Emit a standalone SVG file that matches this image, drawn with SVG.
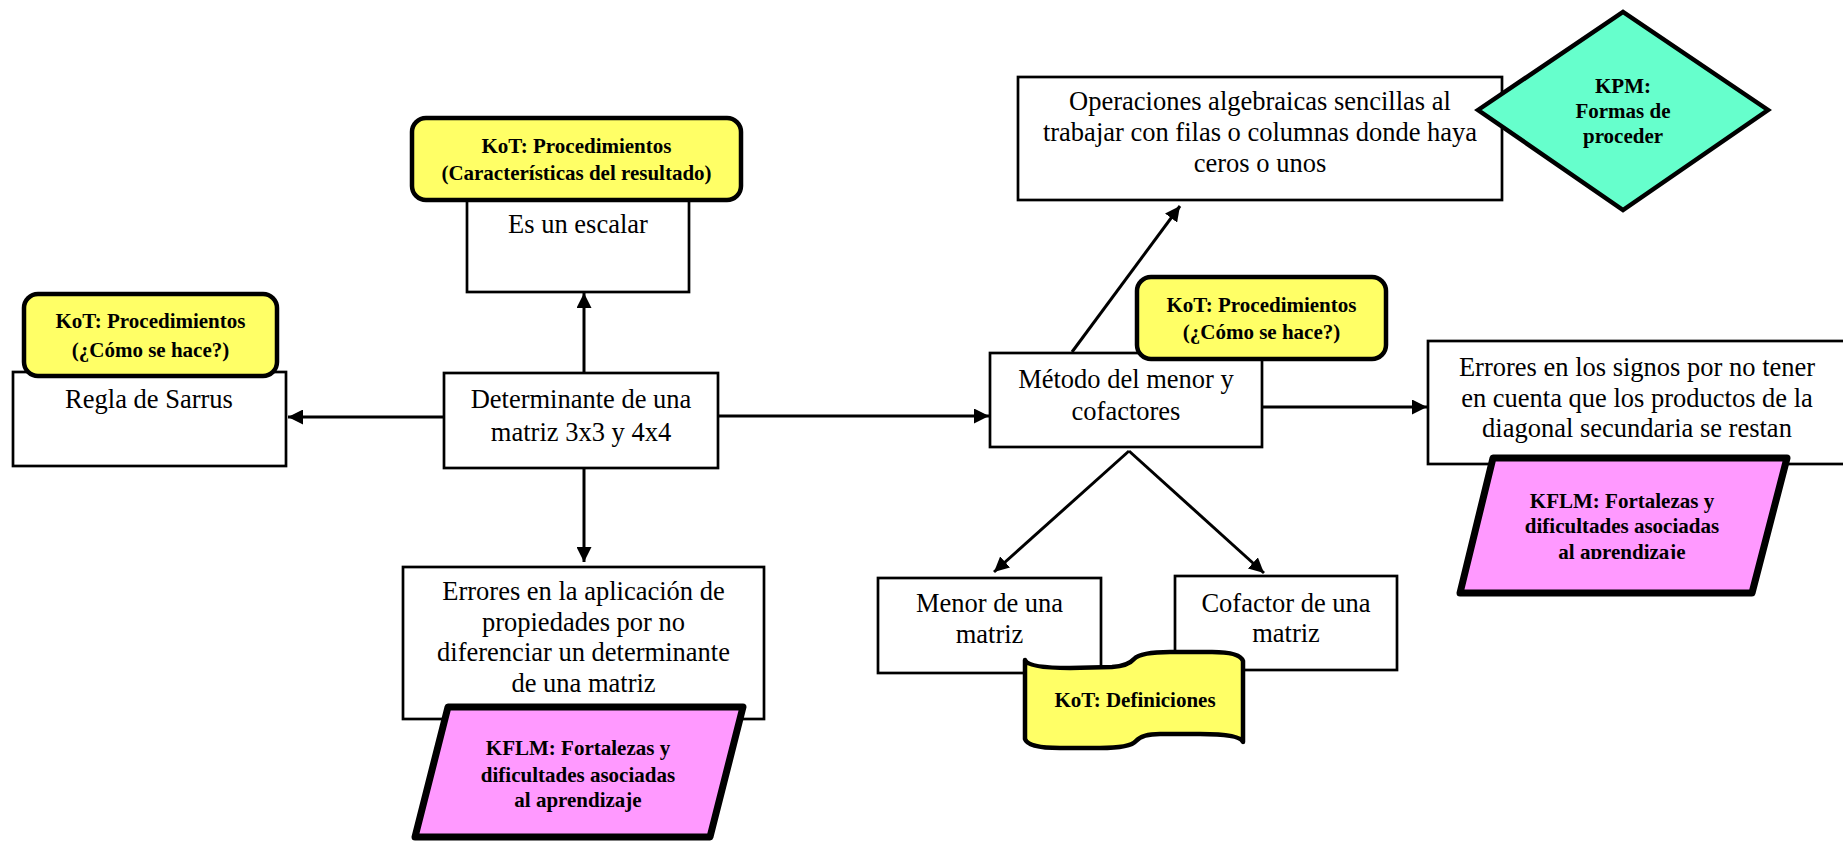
<svg xmlns="http://www.w3.org/2000/svg" width="1843" height="844" viewBox="0 0 1843 844">
  <style>
    .box { fill: #ffffff; stroke: #000000; stroke-width: 2.7; }
    .tag { fill: #ffff66; stroke: #000000; stroke-width: 4.5; }
    .kflm { fill: #ff99ff; stroke: #000000; stroke-width: 7; stroke-linejoin: round; }
    .kpm { fill: #66ffcc; stroke: #000000; stroke-width: 4.5; }
    .tape { fill: #ffff66; stroke: #000000; stroke-width: 4.5; stroke-linejoin: round; }
    .txt { font-family: "Liberation Serif", "Times New Roman", serif; font-size: 26.5px; fill: #000000; text-anchor: middle; }
    .lbl { font-family: "Liberation Serif", "Times New Roman", serif; font-size: 21px; font-weight: bold; fill: #000000; text-anchor: middle; }
    .edge { stroke: #000000; stroke-width: 3; fill: none; marker-end: url(#arrow); }
  </style>
  <defs>
    <marker id="arrow" viewBox="0 0 10 10" refX="10" refY="5" markerWidth="5" markerHeight="5" markerUnits="strokeWidth" orient="auto">
      <path d="M0,0 L10,5 L0,10 Z" fill="#000000"/>
    </marker>
    <clipPath id="clipLowerKflm">
      <rect x="1400" y="440" width="443" height="119"/>
    </clipPath>
  </defs>
  <rect width="1843" height="844" fill="#ffffff"/>

  <g id="connectors">
    <line class="edge" x1="445" y1="417" x2="288" y2="417"/>
    <line class="edge" x1="584" y1="373" x2="584" y2="293"/>
    <line class="edge" x1="584" y1="468" x2="584" y2="562"/>
    <line class="edge" x1="718" y1="416" x2="989" y2="416"/>
    <line class="edge" x1="1262" y1="407" x2="1427" y2="407"/>
    <line class="edge" x1="1072" y1="352" x2="1180" y2="206"/>
    <line class="edge" x1="1129" y1="451" x2="994" y2="572"/>
    <line class="edge" x1="1129" y1="451" x2="1264" y2="573"/>
  </g>

  <g id="sarrus">
    <rect class="box" x="13" y="372" width="273" height="94"/>
    <text class="txt" x="149" y="408">Regla de Sarrus</text>
  </g>
  <g id="tag-sarrus">
    <rect class="tag" x="24" y="294" width="253" height="82" rx="14"/>
    <text class="lbl" x="150.5" y="328">KoT: Procedimientos</text>
    <text class="lbl" x="150.5" y="357">(¿Cómo se hace?)</text>
  </g>

  <g id="escalar">
    <rect class="box" x="467" y="195" width="222" height="97"/>
    <text class="txt" x="578" y="233">Es un escalar</text>
  </g>
  <g id="tag-escalar">
    <rect class="tag" x="412" y="118" width="329" height="82" rx="14"/>
    <text class="lbl" x="576.5" y="153">KoT: Procedimientos</text>
    <text class="lbl" x="576.5" y="180">(Características del resultado)</text>
  </g>

  <g id="determinante">
    <rect class="box" x="444" y="373" width="274" height="95"/>
    <text class="txt" x="581" y="408">Determinante de una</text>
    <text class="txt" x="581" y="441">matriz 3x3 y 4x4</text>
  </g>

  <g id="errores-propiedades">
    <rect class="box" x="403" y="567" width="361" height="152"/>
    <text class="txt" x="583.5" y="600">Errores en la aplicación de</text>
    <text class="txt" x="583.5" y="631">propiedades por no</text>
    <text class="txt" x="583.5" y="661">diferenciar un determinante</text>
    <text class="txt" x="583.5" y="692">de una matriz</text>
  </g>
  <g id="kflm-propiedades">
    <polygon class="kflm" points="448,707 743,707 710,837 415,837"/>
    <text class="lbl" x="578" y="755">KFLM: Fortalezas y</text>
    <text class="lbl" x="578" y="782">dificultades asociadas</text>
    <text class="lbl" x="578" y="807">al aprendizaje</text>
  </g>

  <g id="operaciones">
    <rect class="box" x="1018" y="77" width="484" height="123"/>
    <text class="txt" x="1260" y="110">Operaciones algebraicas sencillas al</text>
    <text class="txt" x="1260" y="141">trabajar con filas o columnas donde haya</text>
    <text class="txt" x="1260" y="172">ceros o unos</text>
  </g>
  <g id="kpm">
    <polygon class="kpm" points="1478,110 1623,12 1768,110 1623,210"/>
    <text class="lbl" x="1623" y="93">KPM:</text>
    <text class="lbl" x="1623" y="118">Formas de</text>
    <text class="lbl" x="1623" y="143">proceder</text>
  </g>

  <g id="metodo">
    <rect class="box" x="990" y="353" width="272" height="94"/>
    <text class="txt" x="1126" y="388">Método del menor y</text>
    <text class="txt" x="1126" y="420">cofactores</text>
  </g>
  <g id="tag-metodo">
    <rect class="tag" x="1137" y="277" width="249" height="82" rx="14"/>
    <text class="lbl" x="1261.5" y="312">KoT: Procedimientos</text>
    <text class="lbl" x="1261.5" y="339">(¿Cómo se hace?)</text>
  </g>

  <g id="errores-signos">
    <rect class="box" x="1428" y="341" width="420" height="123"/>
    <text class="txt" x="1637" y="376">Errores en los signos por no tener</text>
    <text class="txt" x="1637" y="406.5">en cuenta que los productos de la</text>
    <text class="txt" x="1637" y="437">diagonal secundaria se restan</text>
  </g>
  <g id="kflm-signos">
    <polygon class="kflm" points="1493,458 1787,458 1752,593 1460,593"/>
    <text class="lbl" x="1622" y="508">KFLM: Fortalezas y</text>
    <text class="lbl" x="1622" y="533">dificultades asociadas</text>
    <text class="lbl" x="1622" y="559" clip-path="url(#clipLowerKflm)">al aprendizaje</text>
  </g>

  <g id="menor">
    <rect class="box" x="878" y="578" width="223" height="95"/>
    <text class="txt" x="989.5" y="612">Menor de una</text>
    <text class="txt" x="989.5" y="643">matriz</text>
  </g>
  <g id="cofactor">
    <rect class="box" x="1175" y="576" width="222" height="94"/>
    <text class="txt" x="1286" y="612">Cofactor de una</text>
    <text class="txt" x="1286" y="642">matriz</text>
  </g>
  <g id="definiciones">
    <path class="tape" d="M1025,660 Q1028,668 1070,668 L1112,667 Q1128,666 1134,659 Q1141,652 1170,652 L1212,652 Q1240,652 1243,661 L1243,742 Q1240,734 1200,734 L1160,734 Q1142,734 1136,741 Q1130,748 1100,748 L1060,748 Q1028,748 1025,739 Z"/>
    <text class="lbl" x="1135" y="707">KoT: Definiciones</text>
  </g>
</svg>
